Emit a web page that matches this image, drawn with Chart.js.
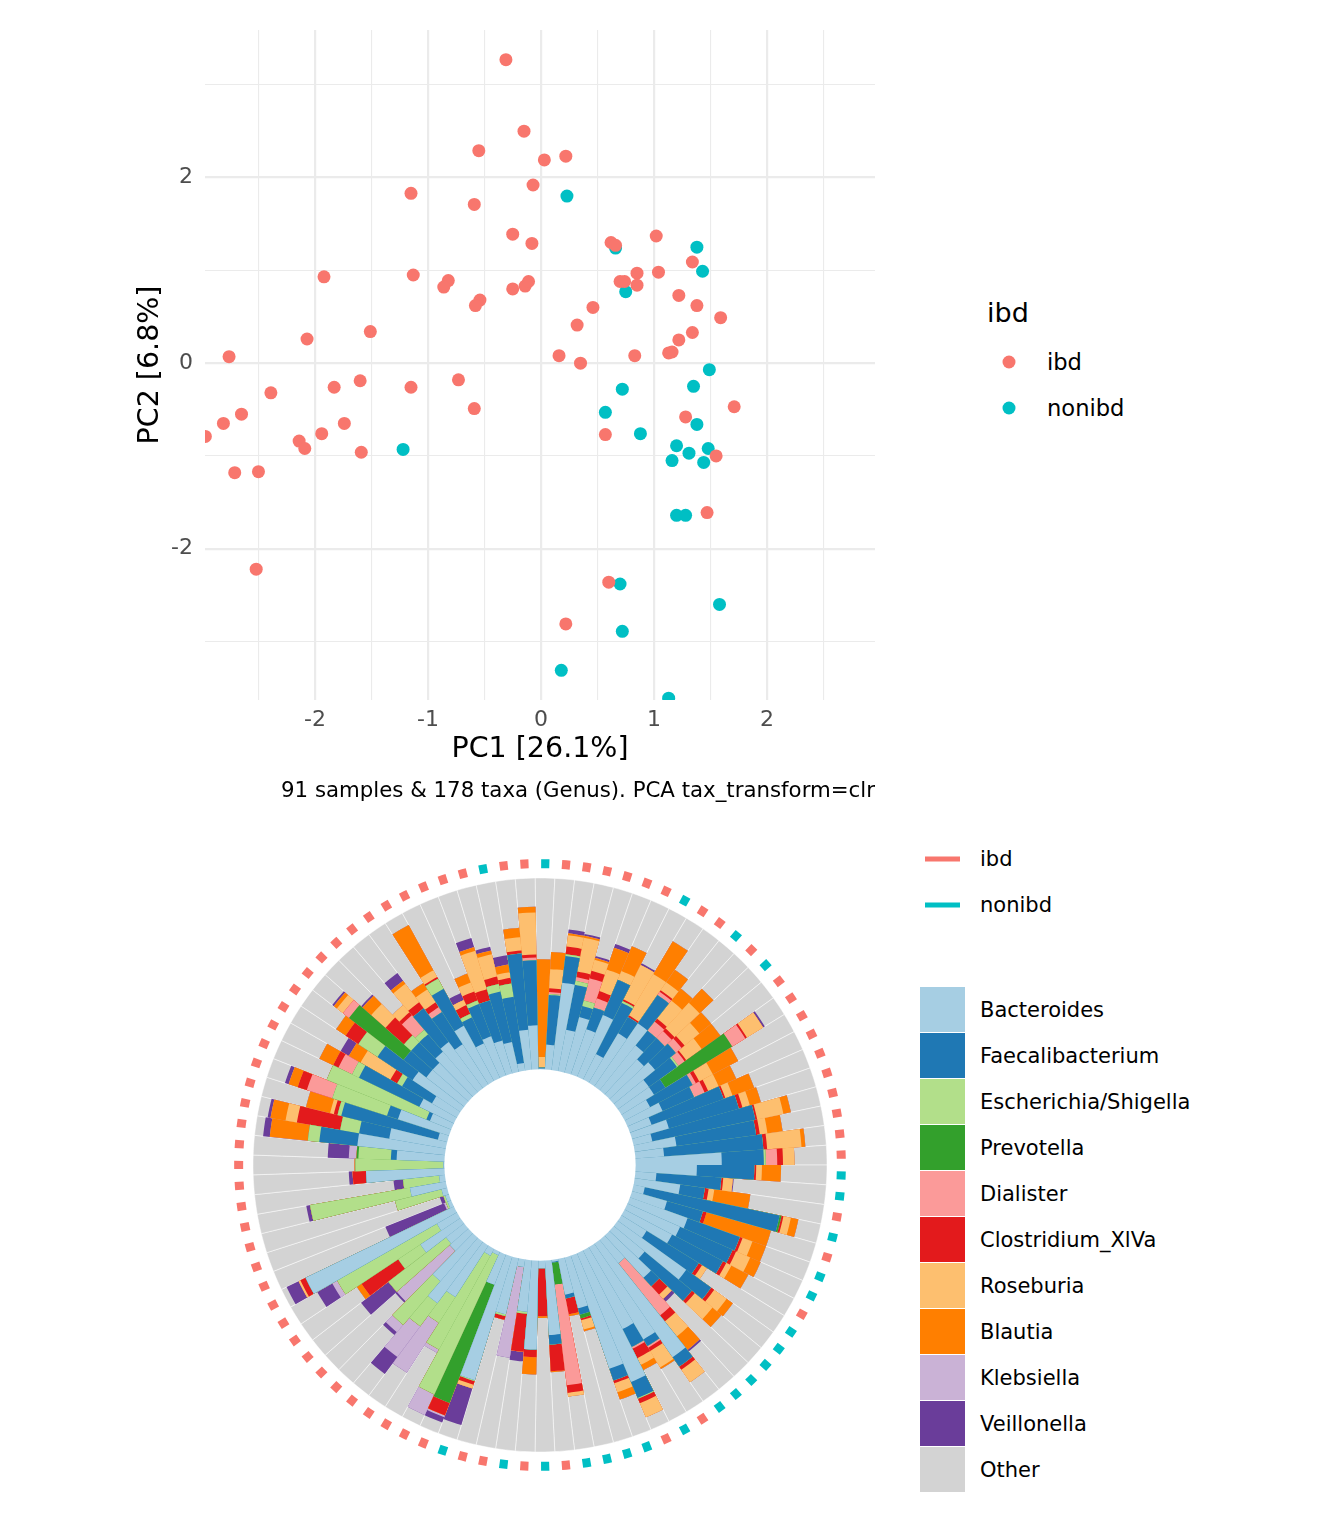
<!DOCTYPE html>
<html>
<head>
<meta charset="utf-8">
<script src="https://cdn.jsdelivr.net/npm/chart.js@4.4.1/dist/chart.umd.min.js"></script>
<style>
  body { margin: 0; background: #fff; font-family: "DejaVu Sans", sans-serif; }
  #wrap { position: relative; width: 1344px; height: 1536px; overflow: hidden; }
  canvas { position: absolute; }
  .t { position: absolute; white-space: nowrap; line-height: 1; color: #000; transform: translateY(-50%); }
  .dot { position: absolute; width: 13px; height: 13px; border-radius: 50%; transform: translate(-50%, -50%); }
  .ln { position: absolute; width: 35px; height: 5px; transform: translateY(-50%); }
  .sq { position: absolute; left: 920px; width: 45px; height: 45px; }
</style>
</head>
<body>
<div id="wrap">
  <canvas id="pca" width="900" height="780" style="left:0;top:0"></canvas>
  <canvas id="comp" width="640" height="640" style="left:220px;top:845px"></canvas>

  <div class="t" style="right:469px;top:790px;font-size:21.3px">91 samples &amp; 178 taxa (Genus). PCA tax_transform=clr</div>

  <div class="t" style="left:987px;top:312px;font-size:27px">ibd</div>
  <div class="dot" style="left:1009px;top:362px;background:#F8766D"></div>
  <div class="t" style="left:1047px;top:362px;font-size:22.6px">ibd</div>
  <div class="dot" style="left:1009px;top:408px;background:#00BFC4"></div>
  <div class="t" style="left:1047px;top:408px;font-size:22.6px">nonibd</div>

  <div class="ln" style="left:925px;top:859px;background:#F8766D"></div>
  <div class="t" style="left:980px;top:859px;font-size:21px">ibd</div>
  <div class="ln" style="left:925px;top:905px;background:#00BFC4"></div>
  <div class="t" style="left:980px;top:905px;font-size:21px">nonibd</div>
  <div id="genusLegend"></div>
</div>

<script>
// ---- PCA scores ----
const ibdPC1 = [-0.31, -0.15, -0.55, -0.07, -1.15, -0.59, -0.25, -0.08, -1.92, -1.13,
  -0.82, -0.86, -0.54, -0.58, -0.25, -0.14, -0.11, -2.07, -1.51, -2.76,
  -2.39, -1.83, -1.60, -1.15, -0.73, -0.59, -2.65, -2.81, -2.97, -2.14,
  -2.09, -1.94, -1.74, -1.59, -2.71, -2.50, -2.52,
  0.03, 0.22, 0.62, 0.66, 1.02, 1.34, 0.85, 1.04, 0.70, 0.74,
  0.85, 1.22, 1.38, 1.59, 0.46, 0.32, 0.16, 0.35, 0.83, 1.22,
  1.34, 1.16, 1.71, 1.28, 0.57, 1.55, 1.47, 0.60, 0.22, 1.13];
const ibdPC2 = [3.27, 2.50, 2.29, 1.92, 1.83, 1.71, 1.39, 1.29, 0.93, 0.95,
  0.89, 0.82, 0.68, 0.62, 0.80, 0.83, 0.88, 0.26, 0.34, 0.07,
  -0.32, -0.26, -0.19, -0.26, -0.18, -0.49, -0.55, -0.65, -0.79, -0.84,
  -0.92, -0.76, -0.65, -0.96, -1.18, -1.17, -2.22,
  2.19, 2.23, 1.30, 1.27, 1.37, 1.09, 0.97, 0.98, 0.88, 0.88,
  0.84, 0.73, 0.62, 0.49, 0.60, 0.41, 0.08, 0.00, 0.08, 0.25,
  0.33, 0.12, -0.47, -0.58, -0.77, -1.00, -1.61, -2.36, -2.81, 0.11];
const nonibdPC1 = [-1.22, 0.23, 0.66, 1.38, 1.43, 0.75, 1.49, 1.35, 0.72, 0.57,
  1.38, 0.88, 1.20, 1.31, 1.48, 1.16, 1.44, 1.20, 1.28, 0.70,
  1.58, 0.72, 0.18, 1.13];
const nonibdPC2 = [-0.93, 1.80, 1.24, 1.25, 0.99, 0.77, -0.07, -0.25, -0.28, -0.53,
  -0.66, -0.76, -0.89, -0.97, -0.92, -1.05, -1.07, -1.64, -1.64, -2.38,
  -2.60, -2.89, -3.31, -3.61];

// ---- composition per sample (clockwise from 12 o'clock) ----
const sampleGroup = [
  'nonibd','ibd','ibd','ibd','ibd','ibd','ibd','nonibd','ibd','ibd',
  'nonibd','ibd','nonibd','ibd','ibd','ibd','ibd','ibd','ibd','ibd',
  'ibd','ibd','ibd','nonibd','nonibd','ibd','nonibd','ibd','nonibd','nonibd',
  'ibd','nonibd','nonibd','nonibd','nonibd','nonibd','nonibd','ibd','nonibd','ibd',
  'nonibd','nonibd','nonibd','nonibd','ibd','nonibd','ibd','nonibd','ibd','ibd',
  'nonibd','ibd','ibd','ibd','ibd','ibd','ibd','ibd','ibd','ibd',
  'ibd','ibd','ibd','ibd','ibd','ibd','ibd','ibd','ibd','ibd',
  'ibd','ibd','ibd','ibd','ibd','ibd','ibd','ibd','ibd','ibd',
  'ibd','ibd','ibd','ibd','ibd','ibd','ibd','ibd','nonibd','ibd',
  'ibd'];

const bacteroides = [.005,.13,.46,.22,.30,.25,.35,.15,.30,.40, .30,.25,.28,.20,.20,.15,.20,.12,.20,.10,
  .22,.15,.45,.32,.11,.24,.06,.19,.32,.30, .28,.155,.44,.21,.30,.156,.72,.56,.46,.73,
  .625,.275,.19,.01,.39,.04,.465,.27,.04,.30, .675,.17,.02,.04,.32,.40,.30,.13,.12,.25,
  .12,.86,.02,.02,.03,.19,.03,.41,.005,.25, .46,.30,.05,.28,.12,.20,.15,.30,.25,.25,
  .28,.30,.25,.33,.20,.22,.18,.16,.04,.21, .23];
const faecalibacterium = [.005,.26,.14,.24,.06,.12,.20,.30,.10,.18, .10,.15,.14,.18,.07,.25,.18,.40,.38,.55,
  .42,.52,.22,.30,.34,.13,.72,.195,.29,.30, .30,.32,.16,.32,.06,0,.06,.04,.105,.09,
  .065,.035,.02,.005,.05,0,0,0,0,0, 0,0,0,0,0,0,0,0,0,0,
  0,0,0,0,0,0,0,0,0,.03, .20,.16,.52,.06,.02,.35,.18,.22,.15,.15,
  .12,.22,.20,.22,.15,.18,.22,.27,.35,.40, .34];
const escherichia = [0,.005,.01,.02,.03,0,0,.01,0,0, 0,0,0,.01,0,0,0,0,0,0,
  0,0,.01,0,0,0,0,0,0,0, 0,0,0,0,0,0,0,0,0,.005,
  0,0,0,0,0,0,0,.01,0,.01, .005,0,.80,.56,.16,.15,.30,0,.38,.14,
  .60,0,.01,.01,.25,.53,.19,0,.46,.17, .06,.10,.02,.30,.56,.04,.03,.12,0,.05,
  .03,0,0,.06,.02,.02,0,.04,.07,0, 0];
const prevotella = [0,0,0,0,0,0,0,0,0,0, 0,0,0,0,.41,0,0,0,0,0,
  0,0,0,0,0,0,.01,0,0,0, 0,0,0,0,0,0,0,0,0,0,
  0,.02,0,.115,0,0,0,0,0,0, 0,.66,0,0,0,0,0,0,0,0,
  0,0,0,0,0,0,0,0,0,.01, 0,0,0,0,0,0,0,0,.36,0,
  0,0,0,0,0,0,0,0,0,0, 0];
const dialister = [0,.01,0,.02,.12,.05,0,0,0,.02, .06,.05,.04,.04,.08,.02,.06,0,0,0,
  0,0,.06,0,0,0,0,0,0,0, 0,0,0,0,0,.35,0,.01,.01,0,
  0,0,0,.53,0,0,0,0,0,0, 0,0,0,0,0,0,0,0,0,0,
  0,0,0,0,0,0,0,0,0,0, 0,0,0,.14,0,.08,0,0,.04,0,
  .10,0,.03,0,0,0,0,0,0,0, .015];
const clostridium = [0,.02,.04,.03,.04,.04,0,.01,.01,.01, .02,.02,.02,.01,.01,.02,.02,.01,.02,.01,
  .02,.02,.03,.01,.01,.02,.01,.02,.015,.02, .02,.02,.02,.02,.06,.04,.02,.02,.055,.025,
  .015,.01,.085,.04,.14,.25,.04,.20,0,.02, .02,.07,0,0,0,0,0,0,0,.23,
  0,.03,0,0,0,0,0,.07,0,0, 0,.23,.02,.05,0,.03,.04,.08,0,.13,
  .02,.04,.03,.01,.05,.05,.06,.04,.03,.015, .015];
const roseburia = [.055,.10,.06,.18,.06,.12,.05,.20,.25,.05, .12,.18,.10,.10,.10,.08,.06,.04,.04,.14,
  .04,.18,.06,.03,.05,.03,.04,0,.055,.08, .03,.03,.08,.12,.03,.10,.08,.10,.04,.08,
  .05,.05,0,.02,0,0,0,0,0,0, .02,0,0,0,0,0,0,0,0,0,
  0,.01,0,0,0,0,0,0,0,0, 0,.06,.02,0,0,0,.18,0,.04,.10,
  .05,.12,.08,.04,.03,.05,.21,.12,.03,.07, .22];
const blautia = [.51,.09,.01,.01,.01,.12,.14,0,.20,.08, .08,.10,.08,.12,0,.15,.10,.12,.06,.04,
  .08,.02,0,.10,0,.19,.04,.35,.075,.06, .10,0,.04,.06,0,.09,0,.01,.03,0,
  .04,.01,.01,0,.005,.01,.09,0,0,0, 0,0,0,0,0,0,0,0,0,.03,
  0,0,0,0,0,0,0,0,.005,0, .20,.08,.13,.05,0,.08,.07,.06,.02,.06,
  0,.02,.04,.27,0,.05,.02,.02,.04,.05, .03];
const klebsiella = [0,0,0,0,0,0,0,0,0,0, 0,0,0,0,0,0,0,0,0,0,
  0,0,0,0,0,0,0,0,0,0, 0,0,0,0,0,0,0,0,0,0,
  0,0,0,0,0,0,0,0,.48,0, 0,.01,.12,.02,.31,.20,.05,.37,0,0,
  .03,0,.01,0,0,0,0,0,0,.04, 0,0,0,0,0,0,0,0,0,0,
  0,0,0,0,0,0,0,0,0,0, 0];
const veillonella = [0,0,.02,.01,.01,.02,0,.01,0,0, 0,0,0,0,.01,0,0,0,0,0,
  0,0,0,0,.005,0,0,0,0,0, 0,0,0,0,.02,.01,0,0,0,0,
  0,0,0,0,0,0,0,.05,0,0, .20,.03,0,0,0,.11,.02,.01,.18,0,
  .09,.07,.33,.02,0,.02,.05,.02,0,.11, .035,.015,0,.02,0,0,.05,0,.01,.01,
  0,.05,0,0,.04,0,.05,.02,.05,0, 0];

const genera = ['Bacteroides', 'Faecalibacterium', 'Escherichia/Shigella', 'Prevotella', 'Dialister',
  'Clostridium_XlVa', 'Roseburia', 'Blautia', 'Klebsiella', 'Veillonella', 'Other'];
const genusColors = ['#A6CEE3', '#1F78B4', '#B2DF8A', '#33A02C', '#FB9A99',
  '#E31A1C', '#FDBF6F', '#FF7F00', '#CAB2D6', '#6A3D9A', '#D3D3D3'];
const groupColors = { ibd: '#F8766D', nonibd: '#00BFC4' };

Chart.defaults.font.family = '"DejaVu Sans", sans-serif';

// ---------- PCA scatter ----------
const toPoints = (xs, ys) => xs.map((x, i) => ({ x: x, y: ys[i] }));

new Chart(document.getElementById('pca'), {
  type: 'scatter',
  data: {
    datasets: [
      { label: 'ibd', data: toPoints(ibdPC1, ibdPC2), backgroundColor: groupColors.ibd,
        pointRadius: 6.5, pointBorderWidth: 0 },
      { label: 'nonibd', data: toPoints(nonibdPC1, nonibdPC2), backgroundColor: groupColors.nonibd,
        pointRadius: 6.5, pointBorderWidth: 0 },
    ],
  },
  options: {
    responsive: false,
    animation: false,
    layout: { padding: { left: 0, top: 30, right: 25, bottom: 0 } },
    plugins: { legend: { display: false }, tooltip: { enabled: false } },
    scales: {
      x: {
        type: 'linear', min: -2.973, max: 2.956,
        border: { display: false },
        grid: { color: '#EBEBEB', drawTicks: false,
          lineWidth: (c) => Number.isInteger(c.tick.value) ? 2.2 : 1.1 },
        ticks: { stepSize: 0.5, includeBounds: false, autoSkip: false, maxRotation: 0,
          padding: 7, color: '#4D4D4D', font: { size: 22 },
          callback: (v) => Number.isInteger(v) ? v : '' },
        title: { display: true, text: 'PC1 [26.1%]', color: '#000',
          font: { size: 28.5, lineHeight: 1.2 }, padding: { top: 0, bottom: 13 } },
        afterFit: (s) => { s.height = 80; },
      },
      y: {
        type: 'linear', min: -3.63, max: 3.59,
        border: { display: false },
        grid: { color: '#EBEBEB', drawTicks: false,
          lineWidth: (c) => c.tick.value % 2 === 0 ? 2.2 : 1.1 },
        ticks: { stepSize: 1, includeBounds: false, autoSkip: false,
          padding: 12, color: '#4D4D4D', font: { size: 22 },
          callback: (v) => v % 2 === 0 ? v : '' },
        title: { display: true, text: 'PC2 [6.8%]', color: '#000',
          font: { size: 28.5, lineHeight: 1.2 }, padding: { top: 133, bottom: 0 } },
        afterFit: (s) => { s.width = 205; },
      },
    },
  },
});

// ---------- circular composition bars ----------
const shares = [bacteroides, faecalibacterium, escherichia, prevotella, dialister,
  clostridium, roseburia, blautia, klebsiella, veillonella];
const sampleIds = sampleGroup.map((g, i) => 'sample ' + (i + 1));

// cumulative (stacked) radius for each genus, "Other" fills to 1
const stacked = [];
let running = sampleGroup.map(() => 0);
shares.forEach((arr) => {
  running = running.map((v, i) => v + arr[i]);
  stacked.push(running.slice());
});
stacked.push(sampleGroup.map(() => 1));

const holeAndRing = {
  id: 'holeAndRing',
  afterDatasetsDraw(chart) {
    const scale = chart.scales.r;
    const ctx = chart.ctx;
    const cx = scale.xCenter, cy = scale.yCenter;
    ctx.save();
    ctx.fillStyle = '#fff';
    ctx.beginPath();
    ctx.arc(cx, cy, scale.getDistanceFromCenterForValue(0), 0, Math.PI * 2);
    ctx.fill();
    const ringR = scale.getDistanceFromCenterForValue(1.075);
    const half = (0.78 * Math.PI) / 180;
    ctx.lineWidth = 9;
    ctx.lineCap = 'butt';
    chart.getDatasetMeta(0).data.forEach((arc, i) => {
      const mid = (arc.startAngle + arc.endAngle) / 2;
      ctx.strokeStyle = groupColors[sampleGroup[i]];
      ctx.beginPath();
      ctx.arc(cx, cy, ringR, mid - half, mid + half);
      ctx.stroke();
    });
    ctx.restore();
  },
};

new Chart(document.getElementById('comp'), {
  type: 'polarArea',
  data: {
    labels: sampleIds,
    datasets: stacked.map((vals, k) => ({
      label: genera[k],
      data: vals,
      backgroundColor: genusColors[k],
      borderWidth: k === stacked.length - 1 ? 0.8 : 0,
      borderColor: 'rgba(255,255,255,0.6)',
    })),
  },
  options: {
    responsive: false,
    animation: false,
    layout: { padding: 33 },
    plugins: { legend: { display: false }, tooltip: { enabled: false } },
    scales: {
      r: {
        min: -0.5, max: 1, startAngle: -0.98,
        ticks: { display: false },
        grid: { display: false },
        angleLines: { display: false },
        pointLabels: { display: false },
      },
    },
  },
  plugins: [holeAndRing],
});

// genus legend
const legendBox = document.getElementById('genusLegend');
genera.forEach((name, k) => {
  const sq = document.createElement('div');
  sq.className = 'sq';
  sq.style.top = (987 + 46 * k) + 'px';
  sq.style.background = genusColors[k];
  legendBox.appendChild(sq);
  const lab = document.createElement('div');
  lab.className = 't';
  lab.style.left = '980px';
  lab.style.top = (1010 + 46 * k) + 'px';
  lab.style.fontSize = '21px';
  lab.textContent = name;
  legendBox.appendChild(lab);
});
</script>
</body>
</html>
